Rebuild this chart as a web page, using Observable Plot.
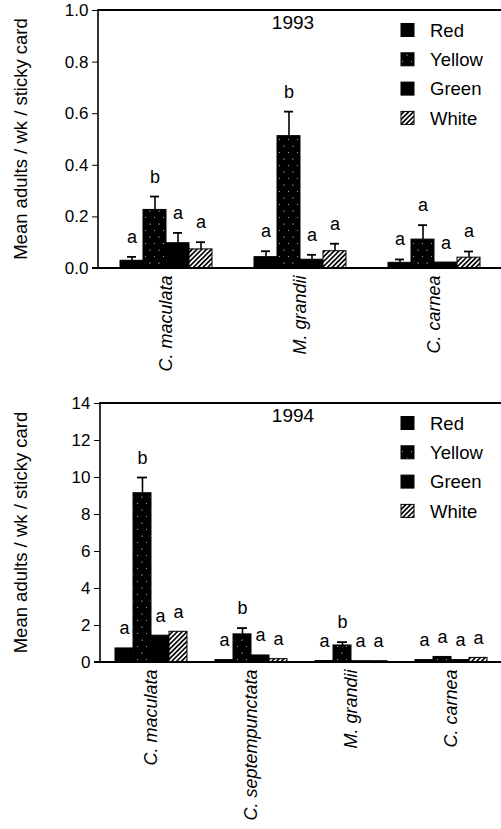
<!DOCTYPE html>
<html><head><meta charset="utf-8">
<script src="https://cdn.jsdelivr.net/npm/d3@7"></script>
<script src="https://cdn.jsdelivr.net/npm/@observablehq/plot@0.6"></script>
<style>
body{margin:0;background:#fff;}
#chart svg{display:block;}
</style>
</head><body>
<svg id="defs" width="0" height="0" style="position:absolute">
  <defs>
    <pattern id="hatch" patternUnits="userSpaceOnUse" width="3.4" height="3.4" patternTransform="rotate(45)">
      <rect width="3.4" height="3.4" fill="white"></rect>
      <line x1="0.8" y1="0" x2="0.8" y2="3.4" stroke="black" stroke-width="1.7"></line>
    </pattern>
    <pattern id="speckle" patternUnits="userSpaceOnUse" width="9" height="13">
      <rect width="9" height="13" fill="black"></rect>
      <circle cx="2" cy="3" r="0.6" fill="white"></circle>
      <circle cx="6.5" cy="9.5" r="0.5" fill="#ddd"></circle>
    </pattern>
  </defs>
</svg>
<div id="chart"></div>
<script>
const colors = ["Red", "Yellow", "Green", "White"];

const species1993 = ["C. maculata", "M. grandii", "C. carnea"];
const mean1993 = [
  [0.030, 0.227, 0.098, 0.074],
  [0.044, 0.513, 0.034, 0.067],
  [0.022, 0.112, 0.023, 0.042]
];
const upper1993 = [
  [0.045, 0.279, 0.138, 0.102],
  [0.067, 0.608, 0.053, 0.096],
  [0.035, 0.168, null, 0.066]
];
const letters1993 = [
  ["a", "b", "a", "a"],
  ["a", "b", "a", "a"],
  ["a", "a", "a", "a"]
];
const ticks1993 = [0, 0.2, 0.4, 0.6, 0.8, 1.0];

const species1994 = ["C. maculata", "C. septempunctata", "M. grandii", "C. carnea"];
const mean1994 = [
  [0.76, 9.15, 1.45, 1.66],
  [0.13, 1.52, 0.38, 0.18],
  [0.08, 0.92, 0.07, 0.07],
  [0.13, 0.30, 0.13, 0.25]
];
const upper1994 = [
  [null, 10.0, null, null],
  [null, 1.86, null, null],
  [null, 1.10, null, null],
  [null, null, null, null]
];
const letters1994 = [
  ["a", "b", "a", "a"],
  ["a", "b", "a", "a"],
  ["a", "b", "a", "a"],
  ["a", "a", "a", "a"]
];
const ticks1994 = [0, 2, 4, 6, 8, 10, 12, 14];

const yLabel = "Mean adults / wk / sticky card";
const fills = ["black", "url(#speckle)", "black", "url(#hatch)"];
const fillOf = Object.fromEntries(colors.map((c, i) => [c, fills[i]]));
const FONT = "'Liberation Sans', Arial, Helvetica, sans-serif";

function makeChart(o) {
  const rows = [];
  o.species.forEach((s, i) => colors.forEach((c, j) => rows.push({
    species: s, color: c, mean: o.means[i][j], upper: o.uppers[i][j], letter: o.letters[i][j],
    top: o.uppers[i][j] != null ? o.uppers[i][j] : o.means[i][j]
  })));
  const yMax = o.ticks[o.ticks.length - 1];
  const plot = Plot.plot({
    width: 501, height: o.height,
    marginTop: o.marginTop, marginBottom: o.marginBottom, marginLeft: o.marginLeft, marginRight: 0,
    style: {fontFamily: FONT, fontSize: "17px", color: "black", background: "white", overflow: "visible"},
    fx: {domain: o.species, paddingInner: o.pad, paddingOuter: o.pad / 2, label: null, tickRotate: -90, tickSize: 0, tickPadding: 7},
    x: {domain: colors, padding: 0, axis: null},
    y: {domain: [0, yMax], ticks: o.ticks, tickFormat: o.format, label: null, tickSize: 6, tickPadding: 4},
    color: {type: "identity"},
    facet: {data: rows, x: "species"},
    marks: [
      Plot.barY(rows, {x: "color", y: "mean", fill: d => fillOf[d.color], stroke: "black", strokeWidth: 1}),
      Plot.ruleX(rows, {x: "color", y1: "mean", y2: "upper", stroke: "black", strokeWidth: 1.6}),
      Plot.tickY(rows, {x: "color", y: "upper", stroke: "black", strokeWidth: 1.8, insetLeft: o.capInset, insetRight: o.capInset}),
      Plot.text(rows, {x: "color", y: "top", text: "letter", lineAnchor: "bottom", dy: -14, fill: "black", fontSize: 18})
    ]
  });
  const svg = d3.select(plot);
  svg.selectAll('g[aria-label^="fx-axis"] text').attr("font-style", "italic").attr("font-size", 18);
  // Plot anchors the y axis on the first facet; shift it back onto the frame's left edge
  const fx = plot.scale("fx");
  const off = fx.apply(o.species[0]) - o.marginLeft;
  svg.selectAll('g[aria-label^="y-axis"]').each(function () {
    const t = this.getAttribute("transform") || "";
    this.setAttribute("transform", `translate(${-off},0) ${t}`);
  });
  const y = plot.scale("y");
  const y0 = y.apply(0), y1 = y.apply(yMax);
  const L = o.marginLeft, R = 501;
  // frame lines
  svg.append("line").attr("x1", L).attr("x2", L).attr("y1", y1 - 1).attr("y2", y0 + 1).attr("stroke", "black").attr("stroke-width", 1.6);
  svg.append("line").attr("x1", L).attr("x2", R).attr("y1", y1).attr("y2", y1).attr("stroke", "black").attr("stroke-width", 2);
  svg.append("line").attr("x1", L - 6).attr("x2", R).attr("y1", y0).attr("y2", y0).attr("stroke", "black").attr("stroke-width", 2);
  // y label
  svg.append("text").attr("transform", `translate(21,${(y0 + y1) / 2}) rotate(-90)`)
    .attr("text-anchor", "middle").attr("dy", "0.35em").attr("font-size", 18.5).attr("font-family", FONT).text(yLabel);
  // year
  svg.append("text").attr("x", 293).attr("y", y1 + 19).attr("text-anchor", "middle").attr("font-size", 19).attr("font-family", FONT).text(o.year);
  // legend
  const lg = svg.append("g").attr("text-anchor", "start");
  colors.forEach((c, i) => {
    const cy = y1 + 20 + i * 29.3;
    lg.append("rect").attr("x", 401).attr("y", cy - 6.5).attr("width", 13).attr("height", 13)
      .attr("fill", fills[i]).attr("stroke", "black").attr("stroke-width", 1);
    lg.append("text").attr("x", 430).attr("y", cy).attr("dy", "0.36em").attr("text-anchor", "start")
      .attr("font-size", 18.5).attr("font-family", FONT).text(c);
  });
  return plot;
}

const chart = document.getElementById("chart");
chart.append(makeChart({
  species: species1993, means: mean1993, uppers: upper1993, letters: letters1993,
  ticks: ticks1993, format: d3.format(".1f"), height: 390, marginTop: 10, marginBottom: 122,
  marginLeft: 98, pad: 0.315, capInset: 7, year: "1993"
}));
chart.append(makeChart({
  species: species1994, means: mean1994, uppers: upper1994, letters: letters1994,
  ticks: ticks1994, format: d3.format("d"), height: 439, marginTop: 13, marginBottom: 167,
  marginLeft: 100, pad: 0.26, capInset: 4, year: "1994"
}));
</script>
</body></html>
